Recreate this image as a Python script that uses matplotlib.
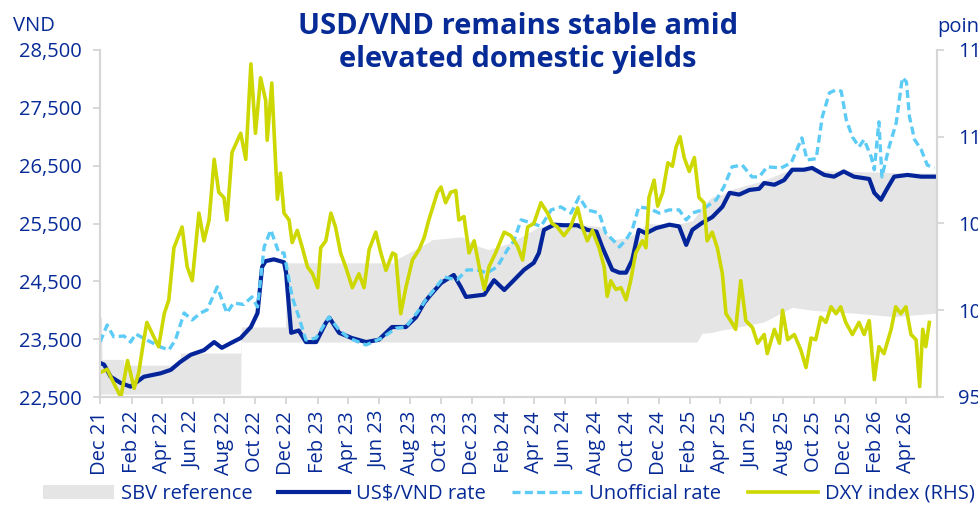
import pandas as pd
import matplotlib
matplotlib.use('Agg')
import matplotlib.pyplot as plt
from matplotlib.patches import Patch
from matplotlib.lines import Line2D
from matplotlib.ticker import FuncFormatter

plt.rcParams['font.family'] = ['Open Sans', 'DejaVu Sans']

NAVY = '#062a96'
BLUE = '#04259a'
LIGHT = '#5ccbf5'
YELLOW = '#cdd700'
GREY = '#e5e5e5'
AXIS = '#d6d6d6'
FS = 14.5

# SBV reference band (lower / upper bounds)
sbv_dates = ['2021-12-01', '2021-12-04', '2021-12-05', '2022-01-16', '2022-01-17', '2022-05-07',
             '2022-05-08', '2022-09-03', '2022-09-04', '2022-11-30', '2022-12-01', '2023-07-01',
             '2023-07-10', '2023-09-07', '2023-09-13', '2023-11-11', '2023-12-15', '2024-01-03',
             '2024-02-13', '2024-04-10', '2024-07-04', '2024-08-06', '2024-09-01', '2024-09-28',
             '2024-10-23', '2024-11-06', '2025-01-04', '2025-02-05', '2025-02-14', '2025-02-24',
             '2025-03-16', '2025-04-05', '2025-04-19', '2025-06-16', '2025-06-26', '2025-08-04',
             '2025-08-20', '2025-09-28', '2025-12-19', '2026-03-08', '2026-05-29']
sbv_upper = [23880, 23880, 23150, 23150, 23050, 23050,
             23260, 23260, 23710, 23710, 24820, 24820,
             24900, 25180, 25220, 25270, 25100, 25050,
             25160, 25440, 25475, 25450, 25220, 25250,
             25350, 25500, 25480, 25550, 25650, 25800,
             25960, 26000, 26080, 26220, 26250, 26390,
             26420, 26420, 26400, 26380, 26370]
sbv_lower = [22550, 22550, 22550, 22550, 22550, 22550,
             22550, 22550, 23450, 23450, 23450, 23450,
             23450, 23450, 23450, 23450, 23450, 23450,
             23450, 23450, 23450, 23450, 23450, 23450,
             23450, 23450, 23450, 23450, 23450, 23600,
             23620, 23660, 23680, 23780, 23800, 23980,
             24050, 24000, 23950, 23890, 23950]

# US$/VND rate
usd_dates = ['2021-12-01', '2021-12-09', '2021-12-22', '2022-01-11', '2022-01-30', '2022-02-25',
             '2022-03-30', '2022-04-19', '2022-05-08', '2022-05-28', '2022-06-23', '2022-07-13',
             '2022-07-28', '2022-08-14', '2022-09-03', '2022-09-23', '2022-10-06', '2022-10-15',
             '2022-10-22', '2022-11-07', '2022-11-27', '2022-12-01', '2022-12-11', '2022-12-26',
             '2023-01-09', '2023-01-29', '2023-02-17', '2023-02-24', '2023-03-15', '2023-04-09',
             '2023-05-07', '2023-06-01', '2023-06-27', '2023-07-24', '2023-08-13', '2023-08-29',
             '2023-09-11', '2023-10-01', '2023-10-26', '2023-11-09', '2023-11-19', '2023-12-25',
             '2024-01-13', '2024-02-02', '2024-02-21', '2024-03-12', '2024-03-31', '2024-04-10',
             '2024-04-20', '2024-05-10', '2024-05-29', '2024-06-24', '2024-07-14', '2024-08-01',
             '2024-08-12', '2024-09-01', '2024-09-15', '2024-09-28', '2024-10-10', '2024-10-23',
             '2024-11-06', '2024-11-26', '2024-12-22', '2025-01-10', '2025-01-24', '2025-02-05',
             '2025-02-24', '2025-03-16', '2025-04-05', '2025-04-19', '2025-05-08', '2025-05-28',
             '2025-06-16', '2025-06-26', '2025-07-16', '2025-08-04', '2025-08-20', '2025-09-12',
             '2025-09-28', '2025-10-22', '2025-11-10', '2025-11-29', '2025-12-19', '2026-01-18',
             '2026-01-28', '2026-02-10', '2026-02-22', '2026-03-08', '2026-04-03', '2026-04-30',
             '2026-05-29']
usd_vals = [23090, 23060, 22850, 22740, 22680, 22850,
            22910, 22970, 23110, 23230, 23310, 23450,
            23350, 23430, 23520, 23710, 23950, 24750,
            24850, 24880, 24830, 24650, 23610, 23650,
            23450, 23450, 23780, 23870, 23610, 23520,
            23450, 23490, 23710, 23710, 23880, 24130,
            24270, 24470, 24610, 24400, 24230, 24270,
            24520, 24350, 24520, 24700, 24820, 24990,
            25390, 25480, 25470, 25470, 25390, 25360,
            25100, 24700, 24650, 24650, 24870, 25390,
            25330, 25420, 25480, 25450, 25130, 25390,
            25510, 25610, 25790, 26030, 26000, 26080,
            26100, 26200, 26170, 26250, 26430, 26430,
            26460, 26340, 26310, 26400, 26310, 26270,
            26030, 25910, 26100, 26310, 26340, 26310,
            26310]

# Unofficial rate
unoff_dates = ['2021-12-01', '2021-12-15', '2021-12-28', '2022-01-17', '2022-01-30', '2022-02-09',
               '2022-03-03', '2022-03-30', '2022-04-15', '2022-04-28', '2022-05-15', '2022-05-31',
               '2022-06-16', '2022-06-29', '2022-07-19', '2022-08-07', '2022-08-20', '2022-09-09',
               '2022-09-25', '2022-10-06', '2022-10-19', '2022-11-01', '2022-11-17', '2022-11-27',
               '2022-12-13', '2022-12-26', '2023-01-09', '2023-01-29', '2023-02-23', '2023-03-15',
               '2023-04-03', '2023-05-07', '2023-06-07', '2023-07-05', '2023-07-24', '2023-08-19',
               '2023-09-01', '2023-09-17', '2023-10-07', '2023-11-01', '2023-11-21', '2023-12-11',
               '2023-12-30', '2024-01-19', '2024-02-08', '2024-02-21', '2024-03-06', '2024-03-26',
               '2024-04-14', '2024-05-04', '2024-05-23', '2024-06-12', '2024-06-28', '2024-07-14',
               '2024-08-06', '2024-08-19', '2024-09-08', '2024-09-15', '2024-09-28', '2024-10-10',
               '2024-10-23', '2024-11-12', '2024-12-02', '2024-12-22', '2025-01-10', '2025-01-24',
               '2025-02-05', '2025-02-24', '2025-03-24', '2025-04-08', '2025-04-24', '2025-05-14',
               '2025-06-02', '2025-06-16', '2025-07-02', '2025-07-29', '2025-08-18', '2025-09-08',
               '2025-09-18', '2025-10-06', '2025-10-18', '2025-11-01', '2025-11-14', '2025-11-24',
               '2025-12-04', '2025-12-16', '2025-12-29', '2026-01-08', '2026-01-22', '2026-01-28',
               '2026-02-06', '2026-02-12', '2026-02-26', '2026-03-12', '2026-03-24', '2026-04-01',
               '2026-04-07', '2026-04-17', '2026-04-30', '2026-05-12', '2026-05-26']
unoff_vals = [23450, 23745, 23540, 23555, 23450, 23590,
              23485, 23365, 23313, 23485, 23953, 23832,
              23953, 24005, 24403, 23953, 24126, 24100,
              24230, 24057, 25095, 25389, 24991, 24991,
              24230, 23884, 23485, 23520, 23884, 23660,
              23520, 23400, 23520, 23690, 23711, 24005,
              24178, 24351, 24576, 24524, 24697, 24697,
              24645, 24749, 25043, 25200, 25562, 25510,
              25450, 25735, 25787, 25680, 25960, 25735,
              25683, 25337, 25164, 25095, 25220, 25389,
              25787, 25760, 25680, 25735, 25735, 25562,
              25680, 25735, 25910, 26135, 26480, 26510,
              26306, 26306, 26480, 26460, 26550, 26980,
              26600, 26620, 27345, 27760, 27811, 27790,
              27293, 26998, 26825, 26950, 26650, 26430,
              27258, 26306, 26825, 27240, 28020, 27950,
              27345, 26950, 26777, 26510, 26460]

# DXY index (RHS)
dxy_dates = ['2021-12-01', '2021-12-15', '2021-12-28', '2022-01-11', '2022-01-24', '2022-02-06',
             '2022-02-15', '2022-02-25', '2022-03-03', '2022-03-16', '2022-03-26', '2022-04-06',
             '2022-04-15', '2022-04-25', '2022-05-11', '2022-05-21', '2022-05-31', '2022-06-13',
             '2022-06-23', '2022-07-03', '2022-07-13', '2022-07-22', '2022-08-01', '2022-08-07',
             '2022-08-17', '2022-09-03', '2022-09-13', '2022-09-23', '2022-10-02', '2022-10-12',
             '2022-10-22', '2022-10-25', '2022-11-03', '2022-11-07', '2022-11-14', '2022-11-20',
             '2022-11-27', '2022-12-07', '2022-12-13', '2022-12-23', '2023-01-02', '2023-01-12',
             '2023-01-22', '2023-02-01', '2023-02-07', '2023-02-17', '2023-02-27', '2023-03-08',
             '2023-03-18', '2023-03-28', '2023-04-10', '2023-04-23', '2023-05-03', '2023-05-13',
             '2023-05-26', '2023-06-05', '2023-06-15', '2023-06-28', '2023-07-04', '2023-07-14',
             '2023-07-24', '2023-08-06', '2023-08-19', '2023-08-29', '2023-09-07', '2023-09-24',
             '2023-10-01', '2023-10-10', '2023-10-20', '2023-10-30', '2023-11-05', '2023-11-15',
             '2023-11-25', '2023-12-05', '2023-12-15', '2023-12-25', '2024-01-03', '2024-01-16',
             '2024-02-02', '2024-02-15', '2024-02-28', '2024-03-09', '2024-03-19', '2024-03-31',
             '2024-04-14', '2024-04-27', '2024-05-06', '2024-05-16', '2024-05-29', '2024-06-11',
             '2024-06-25', '2024-07-04', '2024-07-14', '2024-07-24', '2024-08-06', '2024-08-16',
             '2024-08-22', '2024-08-29', '2024-09-08', '2024-09-18', '2024-09-28', '2024-10-07',
             '2024-10-17', '2024-10-30', '2024-11-06', '2024-11-12', '2024-11-22', '2024-11-29',
             '2024-12-09', '2024-12-19', '2024-12-28', '2025-01-04', '2025-01-12', '2025-01-20',
             '2025-01-30', '2025-02-09', '2025-02-18', '2025-02-28', '2025-03-06', '2025-03-16',
             '2025-03-26', '2025-04-05', '2025-04-12', '2025-04-21', '2025-05-01', '2025-05-11',
             '2025-05-21', '2025-06-03', '2025-06-13', '2025-06-26', '2025-07-02', '2025-07-16',
             '2025-07-26', '2025-08-01', '2025-08-11', '2025-08-24', '2025-09-06', '2025-09-16',
             '2025-09-26', '2025-10-05', '2025-10-15', '2025-10-25', '2025-11-04', '2025-11-14',
             '2025-11-23', '2025-12-03', '2025-12-16', '2025-12-29', '2026-01-08', '2026-01-18',
             '2026-01-28', '2026-02-06', '2026-02-16', '2026-03-02', '2026-03-11', '2026-03-21',
             '2026-03-31', '2026-04-10', '2026-04-20', '2026-04-27', '2026-05-03', '2026-05-09',
             '2026-05-16']
dxy_vals = [96.4, 96.6, 95.8, 95.0, 97.1, 95.5,
            96.4, 98.3, 99.3, 98.5, 97.9, 99.8,
            100.6, 103.6, 104.8, 102.5, 101.7, 105.6,
            104.0, 105.2, 108.7, 106.8, 106.5, 105.2,
            109.1, 110.2, 108.7, 114.2, 110.2, 113.4,
            112.1, 109.8, 113.1, 110.6, 106.4, 107.9,
            105.6, 105.2, 103.9, 104.6, 103.6, 102.5,
            102.1, 101.3, 103.6, 104.0, 105.6, 104.8,
            103.3, 102.5, 101.3, 102.1, 101.3, 103.5,
            104.5, 103.3, 102.3, 103.3, 103.2, 99.8,
            101.3, 102.9, 103.5, 104.2, 105.2, 106.8,
            107.1, 106.2, 106.8, 106.9, 105.2, 105.4,
            103.3, 104.0, 102.5, 101.2, 102.5, 103.3,
            104.5, 104.3, 103.7, 102.9, 104.8, 105.0,
            106.2, 105.6, 105.0, 104.8, 104.3, 104.8,
            105.9, 104.8, 104.0, 104.6, 103.6, 102.5,
            100.8, 101.7, 101.2, 101.3, 100.6, 101.7,
            103.3, 104.0, 103.6, 106.5, 107.5, 106.0,
            106.8, 108.5, 108.3, 109.4, 110.0, 108.8,
            108.0, 108.8, 106.5, 106.2, 104.0, 104.5,
            103.6, 102.1, 99.8, 99.4, 98.9, 101.7,
            99.4, 99.0, 98.1, 98.6, 97.5, 98.9,
            98.1, 100.0, 98.3, 98.6, 97.7, 96.7,
            98.4, 98.3, 99.6, 99.3, 100.2, 99.8,
            100.2, 99.3, 98.6, 99.3, 98.6, 99.4,
            96.0, 97.9, 97.5, 98.9, 100.2, 99.8,
            100.2, 98.6, 98.3, 95.6, 98.9, 97.9,
            99.3]

sbv_x = pd.to_datetime(sbv_dates)
usd_x = pd.to_datetime(usd_dates)
unoff_x = pd.to_datetime(unoff_dates)
dxy_x = pd.to_datetime(dxy_dates)

fig = plt.figure(figsize=(9.79, 5.07), dpi=100)
ax = fig.add_axes([100 / 979, 1 - 397 / 507, 837 / 979, 347 / 507])
ax2 = ax.twinx()

ax.fill_between(sbv_x, sbv_lower, sbv_upper, color=GREY, lw=0, zorder=1)
ax.plot(usd_x, usd_vals, color=BLUE, lw=3.0, zorder=3, solid_joinstyle='round')
ax.plot(unoff_x, unoff_vals, color=LIGHT, lw=2.4, dashes=(2.4, 1.3), zorder=4)
ax2.plot(dxy_x, dxy_vals, color=YELLOW, lw=2.6, solid_joinstyle='round')

ax.set_xlim(pd.Timestamp('2021-12-01'), pd.Timestamp('2026-05-31'))
ax.set_ylim(22500, 28500)
ax.set_yticks(range(22500, 28501, 1000))
ax.yaxis.set_major_formatter(FuncFormatter(lambda v, p: f'{v:,.0f}'))
ax2.set_ylim(95, 115)
ax2.set_yticks([95, 100, 105, 110, 115])

xt = pd.date_range('2021-12-01', '2026-04-01', freq='2MS')
ax.set_xticks(xt)
ax.set_xticklabels([d.strftime('%b %y') for d in xt], rotation=90)

for a in (ax, ax2):
    for s in a.spines.values():
        s.set_color(AXIS)
        s.set_linewidth(1.5)
    a.spines['top'].set_visible(False)
ax.tick_params(axis='both', colors=AXIS, labelcolor=NAVY, labelsize=FS, length=5, width=1.3)
ax.tick_params(axis='y', pad=8)
ax.tick_params(axis='x', pad=5)
ax2.tick_params(axis='y', colors=AXIS, labelcolor=NAVY, labelsize=FS, length=5, width=1.3, pad=10)

fig.text(518 / 979, 1 - 43 / 507, 'USD/VND remains stable amid\nelevated domestic yields',
         ha='center', va='center', fontsize=21, fontweight='bold', color=NAVY, linespacing=1.2)
fig.text(13 / 979, 1 - 26 / 507, 'VND', ha='left', va='center', fontsize=FS, color=NAVY)
fig.text(937 / 979, 1 - 27 / 507, 'points', ha='left', va='center', fontsize=FS, color=NAVY)

handles = [Patch(facecolor=GREY, edgecolor='none'),
           Line2D([], [], color=BLUE, lw=3.0),
           Line2D([], [], color=LIGHT, lw=2.4, dashes=(2.4, 1.3)),
           Line2D([], [], color=YELLOW, lw=2.6)]
labels = ['SBV reference', 'US$/VND rate', 'Unofficial rate', 'DXY index (RHS)']
leg = fig.legend(handles, labels, loc='center', bbox_to_anchor=(509 / 979, 1 - 494 / 507), ncol=4,
                 frameon=False, fontsize=FS, handlelength=3.5, handletextpad=0.35,
                 columnspacing=1.3, borderaxespad=0)
for t in leg.get_texts():
    t.set_color(NAVY)

fig.savefig('out.png', dpi=100)
